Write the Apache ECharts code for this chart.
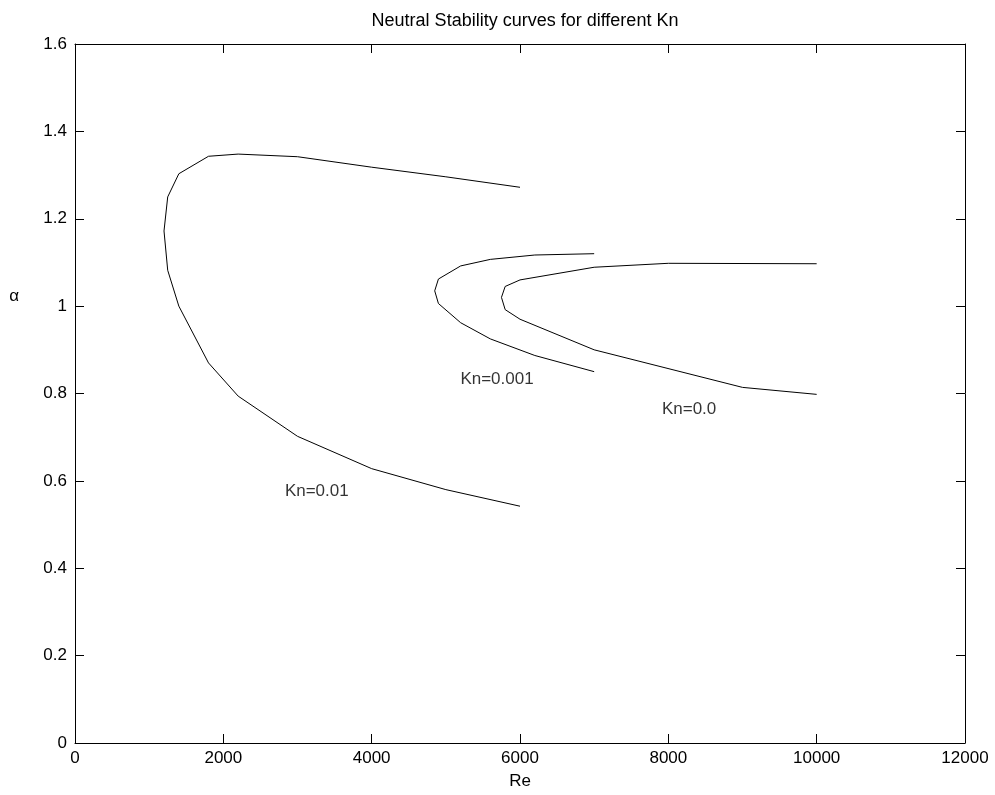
<!DOCTYPE html>
<html>
<head>
<meta charset="utf-8">
<script src="https://cdn.jsdelivr.net/npm/echarts@6/dist/echarts.min.js"></script>
<style>
  html, body { margin: 0; padding: 0; background: #fff; }
  #main { width: 995px; height: 795px; }
</style>
</head>
<body>
<div id="main"></div>
<script>
// Kn=0.01 中性稳定曲线
var re001 = [6000, 5000, 4000, 3000, 2200, 1800, 1400, 1250, 1200, 1250, 1400, 1800, 2200, 3000, 4000, 5000, 6000];
var al001 = [1.272, 1.296, 1.318, 1.342, 1.348, 1.343, 1.303, 1.250, 1.172, 1.082, 1.000, 0.870, 0.794, 0.702, 0.628, 0.580, 0.542];

// Kn=0.001
var re0001 = [7000, 6200, 5600, 5200, 4900, 4850, 4900, 5200, 5600, 6200, 7000];
var al0001 = [1.120, 1.117, 1.107, 1.092, 1.062, 1.035, 1.006, 0.962, 0.925, 0.887, 0.850];

// Kn=0.0
var re00 = [10000, 8000, 7000, 6000, 5800, 5750, 5800, 6000, 7000, 9000, 10000];
var al00 = [1.097, 1.098, 1.089, 1.060, 1.045, 1.020, 0.992, 0.970, 0.900, 0.814, 0.798];

// 曲线标注
var labelText = ['Kn=0.01', 'Kn=0.001', 'Kn=0.0'];
var labelRe = [3260, 5690, 8280];
var labelAl = [0.576, 0.832, 0.763];

function pairs(xs, ys) {
  var out = [];
  for (let i = 0; i < xs.length; i++) {
    out.push([xs[i], ys[i]]);
  }
  return out;
}

var font = 'Liberation Sans, Arial, Helvetica, sans-serif';
var fs = 17;
var myChart = echarts.init(document.getElementById('main'));

function lineSeries(xs, ys) {
  return {
    type: 'line',
    data: pairs(xs, ys),
    showSymbol: false,
    symbol: 'none',
    smooth: false,
    lineStyle: { color: '#000', width: 1 },
    xAxisIndex: 0,
    yAxisIndex: 0,
    z: 3
  };
}

var labelData = [];
for (let i = 0; i < labelText.length; i++) {
  labelData.push({ value: [labelRe[i], labelAl[i]], name: labelText[i] });
}

// 上边和右边的框线，只要刻度
var frameAxis = {
  axisLine: { show: true, onZero: false, lineStyle: { color: '#000', width: 1 } },
  axisTick: { show: true, inside: true, length: 9, lineStyle: { color: '#000' } },
  axisLabel: { show: false },
  splitLine: { show: false }
};

var option = {
  backgroundColor: '#fff',
  animation: false,
  title: {
    text: 'Neutral Stability curves for different Kn',
    left: 520,
    textAlign: 'center',
    top: 7,
    textStyle: { fontFamily: font, fontSize: 18, fontWeight: 'normal', color: '#000' }
  },
  grid: { left: 75, right: 30, top: 44, bottom: 51 },
  xAxis: [{
    type: 'value',
    min: 0, max: 12000, interval: 2000,
    name: 'Re',
    nameLocation: 'middle',
    nameGap: 30,
    nameTextStyle: { fontFamily: font, fontSize: fs, color: '#000' },
    axisLine: { show: true, onZero: false, lineStyle: { color: '#000', width: 1 } },
    axisTick: { show: true, inside: true, length: 9, lineStyle: { color: '#000' } },
    axisLabel: {
      fontFamily: font, fontSize: fs, color: '#000', margin: 7,
      formatter: function (v) { return String(v); }
    },
    splitLine: { show: false }
  }, Object.assign({
    type: 'value', position: 'top', min: 0, max: 12000, interval: 2000
  }, frameAxis)],
  yAxis: [{
    type: 'value',
    min: 0, max: 1.6, interval: 0.2,
    // α 的位置比轴中点高一些，用一个空行把它顶上去
    name: '{a|α}\n{s|}',
    nameLocation: 'middle',
    nameRotate: 0,
    nameGap: 56,
    nameTextStyle: {
      fontFamily: font, fontSize: fs, color: '#000',
      rich: {
        a: { fontFamily: font, fontSize: fs, color: '#000' },
        s: { height: 194 }
      }
    },
    axisLine: { show: true, onZero: false, lineStyle: { color: '#000', width: 1 } },
    axisTick: { show: true, inside: true, length: 9, lineStyle: { color: '#000' } },
    axisLabel: {
      fontFamily: font, fontSize: fs, color: '#000', margin: 8,
      formatter: function (v) { return String(Math.round(v * 10) / 10); }
    },
    splitLine: { show: false }
  }, Object.assign({
    type: 'value', position: 'right', min: 0, max: 1.6, interval: 0.2
  }, frameAxis)],
  series: [
    lineSeries(re001, al001),
    lineSeries(re0001, al0001),
    lineSeries(re00, al00),
    {
      type: 'scatter',
      data: labelData,
      symbolSize: 0,
      silent: true,
      label: {
        show: true,
        position: 'inside',
        formatter: function (p) { return p.name; },
        fontFamily: font,
        fontSize: fs,
        color: '#000'
      }
    }
  ]
};

myChart.setOption(option);
</script>
</body>
</html>
